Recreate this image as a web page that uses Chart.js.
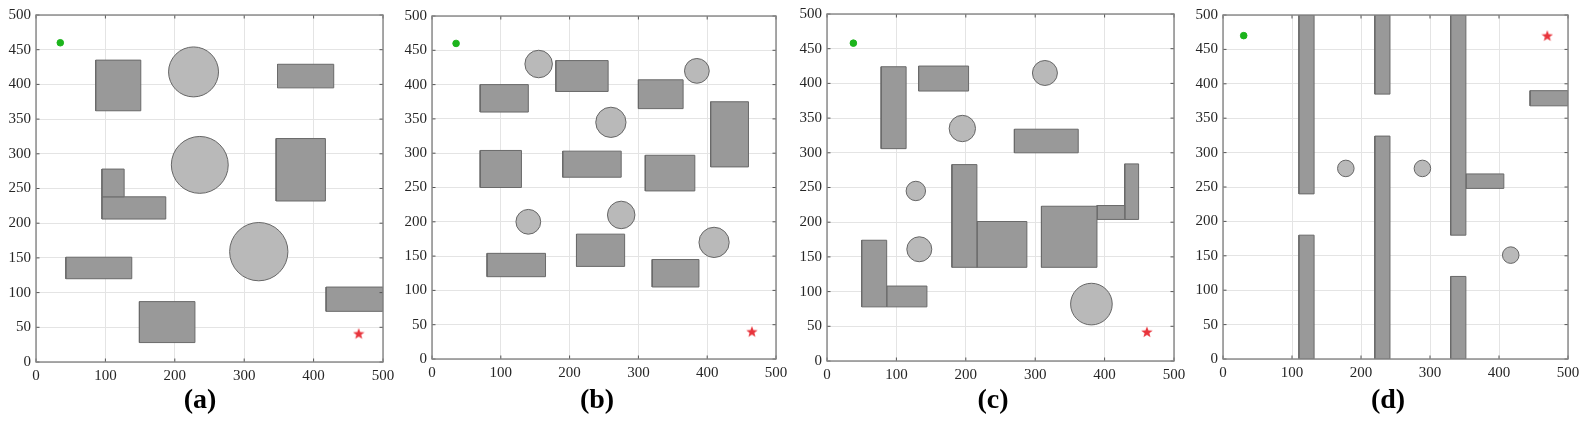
<!DOCTYPE html>
<html>
<head>
<meta charset="utf-8">
<script src="https://cdn.jsdelivr.net/npm/chart.js@4.4.1/dist/chart.umd.min.js"></script>
<style>
  body { margin: 0; background: #fff; width: 1587px; height: 426px; overflow: hidden; position: relative; }
  canvas { position: absolute; top: -30px; }
  .cap { position: absolute; top: 385px; font-family: "Liberation Serif", serif; font-weight: bold;
         font-size: 28px; line-height: 28px; transform: translateX(-50%); color: #000; }
</style>
</head>
<body>
<canvas id="cA" width="423" height="456" style="left:0px"></canvas>
<canvas id="cB" width="424" height="456" style="left:392px"></canvas>
<canvas id="cC" width="429" height="456" style="left:785px"></canvas>
<canvas id="cD" width="428" height="456" style="left:1180px"></canvas>
<div class="cap" style="left:200px">(a)</div>
<div class="cap" style="left:597px">(b)</div>
<div class="cap" style="left:993px">(c)</div>
<div class="cap" style="left:1388px">(d)</div>
<script>
// tick labels
const xTicks = [0, 100, 200, 300, 400, 500];
const yTicks = [0, 50, 100, 150, 200, 250, 300, 350, 400, 450, 500];

// obstacles: rectangles as [x1, x2, y1, y2], circles as [cx, cy, r]
const rectsA = [[86,151,362,435],[348,429,395,429],[346,417,232,322],[95,127,238,278],
                [95,187,206,238],[43,138,120,151],[149,229,28,87],[418,500,73,108]];
const circlesA = [[227,418,36],[236,284,41],[321,159,42]];
const startA = [35, 460];
const goalA = [465, 41];

const rectsB = [[70,140,360,400],[180,256,390,435],[300,365,365,407],[405,460,280,375],
                [70,130,250,304],[190,275,265,303],[310,382,245,297],[80,165,120,154],
                [210,280,135,182],[320,388,105,145]];
const circlesB = [[155,430,20],[385,420,18],[260,345,22],[140,200,18],[275,210,20],[410,170,22]];
const startB = [35, 460];
const goalB = [465, 40];

const rectsC = [[78,114,306,424],[132,204,389,425],[270,362,300,334],[180,216,135,283],
                [216,288,135,201],[309,389,135,223],[389,429,204,224],[429,449,204,284],
                [50,86,78,174],[86,144,78,108]];
const circlesC = [[314,415,18],[195,335,19],[128,245,14],[133,161,18],[381,82,30]];
const startC = [38, 458];
const goalC = [461, 42];

const rectsD = [[110,132,240,500],[110,132,0,180],[220,242,385,500],[220,242,0,324],
                [330,352,180,500],[330,352,0,120],[352,407,248,269],[445,500,368,390]];
const circlesD = [[178,277,12],[289,277,12],[417,151,12]];
const startD = [30, 470];
const goalD = [470, 470];

// red five-pointed star marker
function makeStar(size, color) {
  const c = document.createElement('canvas');
  c.width = size; c.height = size;
  const g = c.getContext('2d');
  const R = size / 2, r = R * 0.42;
  g.beginPath();
  for (let i = 0; i < 10; i++) {
    const a = -Math.PI / 2 + i * Math.PI / 5;
    const rr = i % 2 ? r : R;
    g.lineTo(R + rr * Math.cos(a), R + 0.5 + rr * Math.sin(a));
  }
  g.closePath();
  g.fillStyle = color;
  g.fill();
  return c;
}
const starImg = makeStar(12, '#e8343c');

// box with inward tick marks, like a matlab axes
const boxPlugin = {
  id: 'box',
  afterDatasetsDraw(chart) {
    const { ctx, chartArea: a, scales: { x, y } } = chart;
    ctx.save();
    ctx.strokeStyle = '#555';
    ctx.lineWidth = 1;
    ctx.beginPath();
    xTicks.forEach(v => {
      const px = x.getPixelForValue(v);
      ctx.moveTo(px, a.bottom); ctx.lineTo(px, a.bottom - 3.5);
      ctx.moveTo(px, a.top); ctx.lineTo(px, a.top + 3.5);
    });
    yTicks.forEach(v => {
      const py = y.getPixelForValue(v);
      ctx.moveTo(a.left, py); ctx.lineTo(a.left + 3.5, py);
      ctx.moveTo(a.right, py); ctx.lineTo(a.right - 3.5, py);
    });
    ctx.stroke();
    ctx.strokeStyle = '#858585';
    ctx.lineWidth = 1.4;
    ctx.strokeRect(a.left, a.top, a.right - a.left, a.bottom - a.top);
    ctx.restore();
  }
};

function pxRadius(ctx) {
  if (!ctx.raw) return 0;
  const s = ctx.chart.scales.x;
  return Math.abs(s.getPixelForValue(ctx.raw.r) - s.getPixelForValue(0));
}

const canvasTop = -30;

function makePanel(id, left, area, rects, circles, start, goal) {
  const canvas = document.getElementById(id);
  const datasets = [];
  datasets.push({
    data: [{ x: start[0], y: start[1] }],
    showLine: false, pointRadius: 3.3, pointBackgroundColor: '#1cb41c', pointBorderColor: '#1cb41c'
  });
  datasets.push({
    data: [{ x: goal[0], y: goal[1] }],
    showLine: false, pointStyle: starImg, pointRadius: 6
  });
  datasets.push({
    data: circles.map(c => ({ x: c[0], y: c[1], r: c[2] })),
    showLine: false, pointRadius: pxRadius,
    pointBackgroundColor: '#b9b9b9', pointBorderColor: '#666', pointBorderWidth: 1
  });
  rects.forEach(r => {
    datasets.push({
      data: [{ x: r[0], y: r[2] }, { x: r[1], y: r[2] }, { x: r[1], y: r[3] }, { x: r[0], y: r[3] }, { x: r[0], y: r[2] }],
      fill: 'shape', backgroundColor: '#999999', borderColor: '#6a6a6a', borderWidth: 1,
      pointRadius: 0, tension: 0
    });
  });
  const tickFont = { family: 'Liberation Serif', size: 15 };
  new Chart(canvas, {
    type: 'line',
    data: { datasets: datasets },
    options: {
      responsive: false,
      animation: false,
      events: [],
      layout: { padding: { left: 0, top: area[2] - canvasTop, right: left + canvas.width - area[1], bottom: 0 } },
      plugins: { legend: { display: false }, tooltip: { enabled: false } },
      scales: {
        x: {
          type: 'linear', min: 0, max: 500,
          afterBuildTicks: s => { s.ticks = xTicks.map(v => ({ value: v })); },
          afterFit: s => { s.height = canvas.height + canvasTop - area[3]; },
          ticks: { padding: 5, color: '#262626', font: tickFont, maxRotation: 0 },
          grid: { color: '#e4e4e4', drawTicks: false },
          border: { display: false }
        },
        y: {
          type: 'linear', min: 0, max: 500,
          afterBuildTicks: s => { s.ticks = yTicks.map(v => ({ value: v })); },
          afterFit: s => { s.width = area[0] - left; },
          ticks: { padding: 5, color: '#262626', font: tickFont },
          grid: { color: '#e4e4e4', drawTicks: false },
          border: { display: false }
        }
      }
    },
    plugins: [boxPlugin]
  });
}

// plot area in page pixels: [left, right, top, bottom]
makePanel('cA', 0, [36, 383, 15, 362], rectsA, circlesA, startA, goalA);
makePanel('cB', 392, [432, 776, 16, 359], rectsB, circlesB, startB, goalB);
makePanel('cC', 785, [827, 1174, 14, 361], rectsC, circlesC, startC, goalC);
makePanel('cD', 1180, [1223, 1568, 15, 359], rectsD, circlesD, startD, goalD);
</script>
</body>
</html>
